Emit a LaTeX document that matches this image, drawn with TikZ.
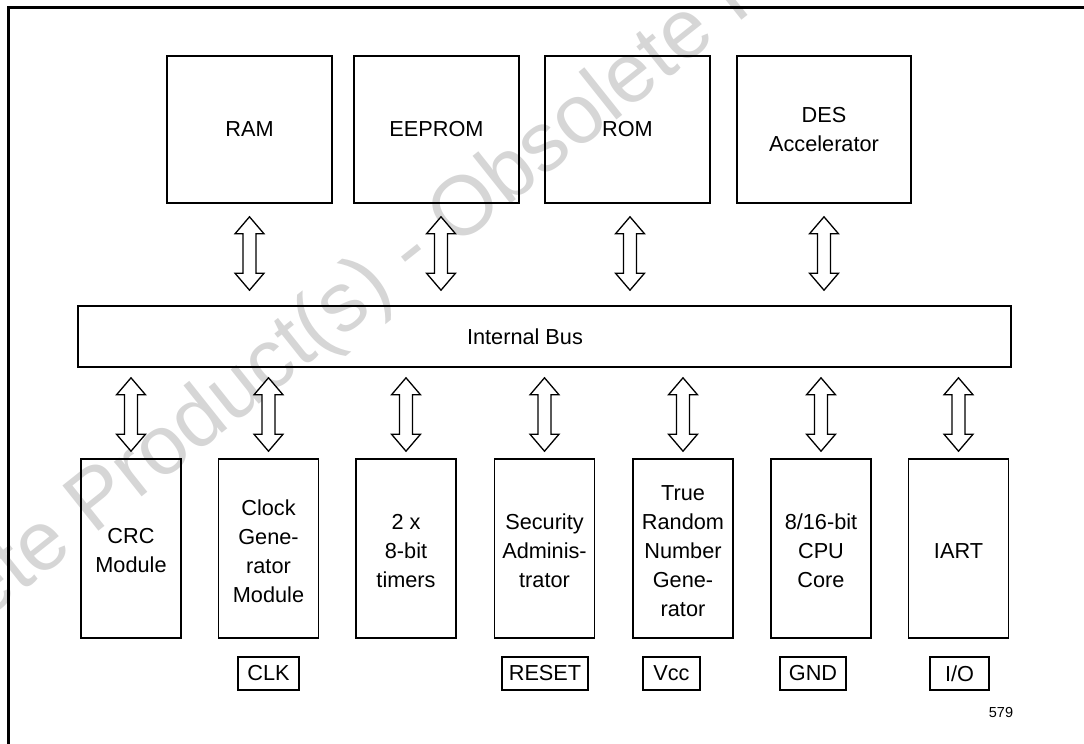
\documentclass[tikz,border=0pt]{standalone}
\usepackage{fontspec}
\setmainfont{Liberation Sans}
\usetikzlibrary{calc}
\tikzset{
  blk/.style={draw=black, line width=1.6pt, rectangle, inner sep=0pt, align=center,
    font=\fontsize{21.7}{29}\selectfont},
  topblk/.style={blk, minimum width=165pt, minimum height=147pt},
  botblk/.style={blk, minimum width=100pt, minimum height=179pt},
  pin/.style={draw=black, line width=1.4pt, rectangle, inner sep=0pt, minimum height=33pt,
    font=\fontsize{21.7}{29}\selectfont},
  txt/.style={inner sep=0pt, align=center, font=\fontsize{21.7}{29}\selectfont},
  arrowshape/.style={draw=black, line width=1.3pt, line join=miter, fill=white},
  frame/.style={draw=black, line width=2.2pt},
  wmark/.style={text=black!16, inner sep=0pt, font=\fontsize{84}{90}\selectfont}
}
\newcommand\darr[2]{%
  \draw[arrowshape] let \p1=(#1), \p2=(#2) in
    (\x1,\y1) -- (\x1-14.5pt,\y1-17pt) -- (\x1-6.5pt,\y1-17pt) -- (\x1-6.5pt,\y2+17pt)
    -- (\x1-14.5pt,\y2+17pt) -- (\x1,\y2) -- (\x1+14.5pt,\y2+17pt) -- (\x1+6.5pt,\y2+17pt)
    -- (\x1+6.5pt,\y1-17pt) -- (\x1+14.5pt,\y1-17pt) -- cycle;}
\begin{document}
\begin{tikzpicture}[x=1pt, y=-1pt]
\useasboundingbox (0,0) rectangle (1084,744);
\clip (0,0) rectangle (1084,744);
% watermark
\node[wmark, rotate=38.5, anchor=base west] (wm) at (-188,759.5) {Obsolete Product(s) - Obsolete Product(s)};
% frame
\draw[frame] (8.5,760) -- (8.5,7.5) -- (1100,7.5);
% top blocks
\node[topblk] (ram) at (249.5,129.5) {RAM};
\node[topblk] (eeprom) at (436.5,129.5) {EEPROM};
\node[topblk] (rom) at (627.5,129.5) {ROM};
\node[topblk, minimum width=174pt] (des) at (824,129.5) {DES\\Accelerator};
% bus
\node[blk, minimum width=933pt, minimum height=61pt] (bus) at (544.5,336.5) {};
\node[txt] (bustxt) at (525,337) {Internal Bus};
% bottom blocks
\node[botblk] (crc) at (131,548.5) {};
\node[txt] at (131,551) {CRC\\Module};
\node[botblk] (clk) at (268.5,548.5) {};
\node[txt] at (268.5,551) {Clock\\Gene-\\rator\\Module};
\node[botblk] (tim) at (406,548.5) {};
\node[txt] at (406,551) {2 x\\8-bit\\timers};
\node[botblk] (sec) at (544.5,548.5) {};
\node[txt] at (544.5,551) {Security\\Adminis-\\trator};
\node[botblk] (trng) at (683,548.5) {};
\node[txt] at (683,551) {True\\Random\\Number\\Gene-\\rator};
\node[botblk] (cpu) at (821,548.5) {};
\node[txt] at (821,551) {8/16-bit\\CPU\\Core};
\node[botblk] (iart) at (958.5,548.5) {};
\node[txt] at (958.5,551) {IART};
% pins
\node[pin, minimum width=61pt] (pclk) at (268.5,673.5) {CLK};
\node[pin, minimum width=86pt] (preset) at (545,673.5) {RESET};
\node[pin, minimum width=57pt] (pvcc) at (671.5,673.5) {Vcc};
\node[pin, minimum width=66pt] (pgnd) at (813,673.5) {GND};
\node[pin, minimum width=59pt] (pio) at (959.5,673.5) {I/O};
\node[inner sep=0pt, font=\fontsize{14.5}{16}\selectfont] (num) at (1001,712) {579};
% arrows top
\darr{$(ram.south)+(0,13)$}{$(ram.south |- bus.north)+(0,-15)$}
\darr{$(eeprom.south)+(4.5,13)$}{$(eeprom.south |- bus.north)+(4.5,-15)$}
\darr{$(rom.south)+(2.5,13)$}{$(rom.south |- bus.north)+(2.5,-15)$}
\darr{$(des.south)+(0,13)$}{$(des.south |- bus.north)+(0,-15)$}
% arrows bottom
\foreach \b in {crc,clk,tim,sec,trng,cpu,iart}{
  \darr{$(\b.north |- bus.south)+(0,10)$}{$(\b.north)+(0,-7)$}
}
\end{tikzpicture}
\end{document}
